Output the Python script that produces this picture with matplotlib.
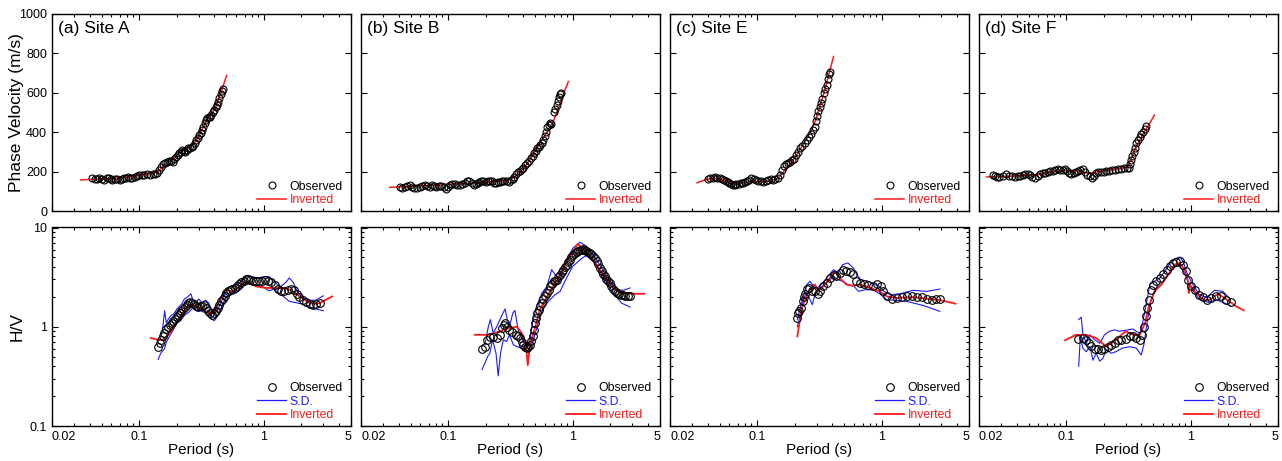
import matplotlib
matplotlib.use("Agg")
from matplotlib import pyplot as plt
from matplotlib.ticker import FixedLocator, FixedFormatter, LogLocator, NullFormatter

plt.rcParams['font.family'] = ['Liberation Sans', 'DejaVu Sans']

# panel titles
titles = ["(a) Site A", "(b) Site B", "(c) Site E", "(d) Site F"]

# ---- phase velocity (period s, m/s) ----
a_pv_obs = [(0.042, 165), (0.044, 163), (0.046, 160), (0.048, 166), (0.050, 162), (0.052, 158), (0.055, 165),
            (0.057, 170), (0.059, 160), (0.061, 155), (0.064, 160), (0.067, 163), (0.070, 158), (0.073, 162),
            (0.076, 165), (0.079, 170), (0.082, 175), (0.085, 168), (0.088, 165), (0.092, 172), (0.096, 178),
            (0.100, 182), (0.105, 185), (0.110, 183), (0.116, 186), (0.122, 184), (0.128, 188), (0.134, 190),
            (0.140, 195), (0.145, 210), (0.150, 225), (0.156, 238), (0.162, 245), (0.168, 250), (0.174, 255),
            (0.180, 252), (0.186, 248), (0.192, 262), (0.198, 272), (0.204, 282), (0.210, 292), (0.216, 302),
            (0.222, 310), (0.228, 305), (0.234, 300), (0.240, 310), (0.248, 318), (0.256, 322), (0.264, 325),
            (0.272, 330), (0.280, 345), (0.288, 360), (0.296, 372), (0.304, 385), (0.312, 398), (0.320, 410),
            (0.328, 428), (0.336, 445), (0.344, 462), (0.352, 472), (0.360, 478), (0.370, 478), (0.380, 485),
            (0.390, 500), (0.400, 515), (0.410, 528), (0.420, 540), (0.430, 555), (0.440, 575), (0.450, 595),
            (0.460, 608), (0.468, 618)]
a_pv_inv = [(0.034, 158), (0.040, 160), (0.050, 163), (0.060, 165), (0.070, 168), (0.080, 172), (0.090, 177),
            (0.100, 182), (0.115, 187), (0.130, 192), (0.140, 198), (0.150, 215), (0.160, 235), (0.175, 255),
            (0.190, 268), (0.205, 285), (0.220, 305), (0.240, 318), (0.260, 330), (0.280, 350), (0.300, 380),
            (0.320, 415), (0.340, 450), (0.360, 475), (0.380, 490), (0.400, 515), (0.420, 545), (0.440, 580),
            (0.460, 615), (0.480, 650), (0.503, 688)]

b_pv_obs = [(0.041, 120), (0.043, 118), (0.045, 122), (0.047, 125), (0.049, 130), (0.051, 124), (0.053, 118),
            (0.056, 118), (0.059, 122), (0.062, 128), (0.065, 132), (0.068, 128), (0.071, 124), (0.074, 130),
            (0.077, 126), (0.080, 122), (0.084, 125), (0.088, 128), (0.092, 120), (0.096, 114), (0.100, 122),
            (0.104, 132), (0.108, 138), (0.113, 135), (0.118, 130), (0.124, 132), (0.130, 138), (0.136, 142),
            (0.142, 152), (0.148, 150), (0.154, 140), (0.160, 132), (0.166, 135), (0.172, 140), (0.178, 145),
            (0.185, 150), (0.192, 152), (0.200, 148), (0.208, 150), (0.216, 152), (0.224, 150), (0.232, 140),
            (0.240, 142), (0.250, 145), (0.260, 148), (0.270, 150), (0.282, 152), (0.294, 150), (0.306, 148),
            (0.318, 155), (0.330, 160), (0.340, 172), (0.350, 190), (0.362, 200), (0.375, 205), (0.388, 212),
            (0.400, 220), (0.415, 235), (0.430, 245), (0.445, 255), (0.460, 268), (0.475, 280), (0.490, 295),
            (0.505, 305), (0.520, 318), (0.535, 325), (0.550, 335), (0.565, 345), (0.580, 360), (0.595, 380),
            (0.610, 400), (0.625, 425), (0.640, 438), (0.655, 445), (0.670, 440), (0.700, 500), (0.720, 520),
            (0.740, 538), (0.760, 558), (0.780, 578), (0.795, 592), (0.805, 600)]
b_pv_inv = [(0.034, 120), (0.040, 122), (0.050, 125), (0.060, 128), (0.070, 130), (0.080, 132), (0.090, 134),
            (0.100, 136), (0.120, 138), (0.140, 140), (0.160, 142), (0.180, 145), (0.200, 147), (0.220, 149),
            (0.250, 152), (0.280, 155), (0.310, 160), (0.340, 172), (0.370, 192), (0.400, 216), (0.430, 240),
            (0.460, 270), (0.490, 298), (0.520, 325), (0.550, 350), (0.580, 372), (0.620, 398), (0.660, 425),
            (0.700, 458), (0.740, 496), (0.780, 535), (0.820, 572), (0.860, 612), (0.900, 640), (0.920, 657)]

c_pv_obs = [(0.040, 160), (0.042, 165), (0.044, 170), (0.046, 172), (0.048, 170), (0.050, 168), (0.052, 162),
            (0.054, 155), (0.056, 150), (0.058, 145), (0.060, 140), (0.062, 135), (0.064, 130), (0.066, 132),
            (0.068, 136), (0.071, 138), (0.074, 140), (0.077, 142), (0.080, 146), (0.083, 150), (0.086, 156),
            (0.090, 165), (0.094, 160), (0.098, 155), (0.102, 152), (0.107, 150), (0.112, 146), (0.117, 150),
            (0.122, 155), (0.128, 160), (0.134, 158), (0.140, 162), (0.146, 165), (0.152, 185), (0.158, 210),
            (0.164, 228), (0.170, 240), (0.176, 245), (0.182, 250), (0.190, 258), (0.198, 265), (0.206, 285),
            (0.214, 300), (0.222, 318), (0.230, 330), (0.240, 345), (0.250, 360), (0.260, 375), (0.270, 390),
            (0.280, 410), (0.290, 428), (0.298, 455), (0.304, 480), (0.310, 510), (0.318, 530), (0.326, 550),
            (0.334, 570), (0.342, 600), (0.350, 620), (0.360, 640), (0.370, 670), (0.378, 695), (0.383, 708)]
c_pv_inv = [(0.033, 143), (0.037, 155), (0.042, 165), (0.048, 165), (0.055, 155), (0.062, 138), (0.070, 135),
            (0.080, 145), (0.090, 150), (0.100, 150), (0.120, 150), (0.140, 160), (0.150, 172), (0.160, 195),
            (0.172, 215), (0.190, 250), (0.207, 284), (0.230, 330), (0.264, 394), (0.290, 450), (0.318, 530),
            (0.340, 590), (0.360, 648), (0.385, 720), (0.410, 784)]

d_pv_obs = [(0.026, 185), (0.027, 178), (0.028, 174), (0.029, 172), (0.031, 178), (0.033, 187), (0.035, 180),
            (0.037, 176), (0.039, 175), (0.041, 178), (0.043, 177), (0.045, 182), (0.047, 188), (0.049, 190),
            (0.051, 182), (0.053, 175), (0.056, 170), (0.059, 180), (0.062, 190), (0.065, 192), (0.068, 195),
            (0.071, 198), (0.074, 202), (0.078, 205), (0.082, 208), (0.086, 212), (0.090, 210), (0.094, 208),
            (0.098, 212), (0.102, 205), (0.106, 195), (0.110, 190), (0.115, 195), (0.120, 200), (0.125, 205),
            (0.130, 210), (0.136, 212), (0.142, 198), (0.148, 185), (0.154, 178), (0.160, 168), (0.166, 180),
            (0.172, 192), (0.180, 198), (0.190, 200), (0.200, 198), (0.210, 202), (0.222, 205), (0.235, 208),
            (0.248, 210), (0.262, 214), (0.276, 215), (0.290, 216), (0.305, 216), (0.318, 218), (0.326, 240),
            (0.333, 260), (0.340, 280), (0.347, 300), (0.355, 320), (0.364, 343), (0.375, 360), (0.389, 377),
            (0.400, 392), (0.410, 402), (0.425, 418), (0.440, 431)]
d_pv_inv = [(0.023, 173), (0.030, 175), (0.040, 178), (0.050, 182), (0.060, 185), (0.070, 195), (0.080, 200),
            (0.095, 205), (0.107, 207), (0.120, 205), (0.140, 195), (0.155, 190), (0.174, 199), (0.200, 205),
            (0.240, 212), (0.280, 218), (0.310, 224), (0.336, 270), (0.364, 326), (0.400, 375), (0.440, 419),
            (0.475, 452), (0.510, 487)]

# ---- H/V spectral ratio (period s, ratio) ----
a_hv_obs = [(0.142, 0.62), (0.146, 0.68), (0.150, 0.74), (0.154, 0.80), (0.158, 0.86), (0.164, 0.95),
            (0.170, 1.00), (0.176, 1.05), (0.182, 1.10), (0.188, 1.15), (0.194, 1.20), (0.200, 1.25),
            (0.206, 1.30), (0.212, 1.36), (0.218, 1.45), (0.225, 1.51), (0.232, 1.58), (0.240, 1.66),
            (0.248, 1.74), (0.256, 1.78), (0.265, 1.75), (0.276, 1.70), (0.286, 1.62), (0.296, 1.58),
            (0.308, 1.60), (0.320, 1.62), (0.332, 1.65), (0.344, 1.55), (0.356, 1.45), (0.370, 1.38),
            (0.384, 1.32), (0.398, 1.36), (0.412, 1.45), (0.426, 1.55), (0.440, 1.65), (0.455, 1.80),
            (0.470, 1.92), (0.485, 2.05), (0.500, 2.20), (0.520, 2.30), (0.540, 2.35), (0.560, 2.42),
            (0.585, 2.48), (0.610, 2.55), (0.635, 2.68), (0.660, 2.80), (0.690, 2.92), (0.720, 3.02),
            (0.750, 3.05), (0.780, 2.95), (0.820, 2.90), (0.870, 2.88), (0.920, 2.90), (0.970, 2.92),
            (1.02, 2.94), (1.08, 2.92), (1.15, 2.85), (1.22, 2.65), (1.30, 2.38), (1.38, 2.27), (1.46, 2.30),
            (1.55, 2.36), (1.64, 2.42), (1.73, 2.32), (1.83, 2.15), (1.93, 1.98), (2.05, 1.85), (2.18, 1.78),
            (2.33, 1.70), (2.48, 1.67), (2.64, 1.68), (2.80, 1.72)]
a_hv_inv = [(0.124, 0.77), (0.140, 0.74), (0.155, 0.74), (0.170, 0.82), (0.187, 0.95), (0.200, 1.10),
            (0.218, 1.32), (0.235, 1.52), (0.255, 1.67), (0.275, 1.62), (0.305, 1.54), (0.335, 1.45),
            (0.360, 1.37), (0.385, 1.36), (0.405, 1.45), (0.430, 1.70), (0.455, 1.98), (0.480, 2.25),
            (0.500, 2.40), (0.530, 2.30), (0.560, 2.27), (0.600, 2.40), (0.640, 2.55), (0.690, 2.75),
            (0.740, 2.87), (0.800, 2.68), (0.870, 2.55), (0.950, 2.50), (1.04, 2.46), (1.20, 2.46),
            (1.34, 2.46), (1.50, 2.42), (1.62, 2.36), (1.78, 2.20), (1.94, 2.02), (2.15, 1.85), (2.33, 1.73),
            (2.55, 1.70), (2.80, 1.73), (3.10, 1.85), (3.53, 2.02)]
a_sd_up = [(0.150, 0.80), (0.155, 1.00), (0.160, 1.45), (0.165, 1.10), (0.172, 1.20), (0.180, 1.30),
           (0.190, 1.35), (0.200, 1.50), (0.210, 1.60), (0.220, 1.70), (0.230, 1.90), (0.245, 2.00),
           (0.260, 2.15), (0.270, 1.85), (0.285, 1.75), (0.300, 1.90), (0.320, 1.75), (0.340, 1.85),
           (0.360, 1.75), (0.380, 1.50), (0.400, 1.35), (0.420, 1.45), (0.450, 1.70), (0.480, 2.10),
           (0.520, 2.50), (0.560, 2.60), (0.620, 2.70), (0.680, 3.00), (0.740, 3.30), (0.800, 3.20),
           (0.900, 3.10), (1.00, 3.20), (1.10, 3.20), (1.20, 2.90), (1.35, 2.50), (1.50, 2.80), (1.60, 3.10),
           (1.72, 2.80), (1.85, 2.30), (2.00, 2.00), (2.30, 1.85), (2.60, 1.85), (3.00, 2.05)]
a_sd_lo = [(0.142, 0.47), (0.150, 0.55), (0.160, 0.60), (0.165, 0.70), (0.175, 0.80), (0.185, 0.90),
           (0.200, 1.10), (0.215, 1.15), (0.230, 1.30), (0.250, 1.40), (0.270, 1.55), (0.290, 1.45),
           (0.310, 1.45), (0.330, 1.40), (0.360, 1.45), (0.380, 1.20), (0.400, 1.15), (0.430, 1.30),
           (0.460, 1.60), (0.500, 2.00), (0.550, 2.10), (0.600, 2.20), (0.660, 2.40), (0.720, 2.70),
           (0.800, 2.70), (0.900, 2.60), (1.00, 2.50), (1.10, 2.30), (1.20, 2.40), (1.30, 2.20), (1.45, 2.00),
           (1.60, 1.80), (1.80, 1.75), (2.00, 1.70), (2.40, 1.55), (3.00, 1.45)]

b_hv_obs = [(0.187, 0.59), (0.197, 0.63), (0.205, 0.74), (0.216, 0.79), (0.230, 0.79), (0.245, 0.77),
            (0.260, 0.83), (0.268, 0.97), (0.280, 1.05), (0.286, 1.09), (0.298, 1.00), (0.310, 0.93),
            (0.328, 0.88), (0.347, 0.83), (0.362, 0.80), (0.376, 0.77), (0.390, 0.70), (0.400, 0.66),
            (0.415, 0.63), (0.427, 0.61), (0.440, 0.63), (0.450, 0.66), (0.463, 0.72), (0.475, 0.80),
            (0.488, 0.93), (0.500, 1.09), (0.510, 1.22), (0.520, 1.37), (0.533, 1.48), (0.545, 1.60),
            (0.562, 1.75), (0.580, 1.90), (0.600, 2.05), (0.620, 2.19), (0.640, 2.37), (0.660, 2.55),
            (0.680, 2.72), (0.700, 2.87), (0.720, 2.92), (0.740, 2.98), (0.765, 3.15), (0.790, 3.35),
            (0.815, 3.55), (0.840, 3.76), (0.865, 4.00), (0.890, 4.22), (0.920, 4.50), (0.950, 4.75),
            (0.975, 5.05), (1.00, 5.33), (1.035, 5.50), (1.07, 5.67), (1.105, 5.80), (1.14, 5.90),
            (1.175, 6.00), (1.21, 6.09), (1.245, 5.95), (1.28, 5.77), (1.32, 5.65), (1.37, 5.55),
            (1.41, 5.40), (1.45, 5.21), (1.50, 4.90), (1.55, 4.57), (1.60, 4.25), (1.64, 3.91),
            (1.70, 3.65), (1.75, 3.43), (1.80, 3.22), (1.86, 3.03), (1.92, 2.90), (1.98, 2.76),
            (2.04, 2.58), (2.11, 2.40), (2.17, 2.28), (2.24, 2.19), (2.33, 2.14), (2.42, 2.10),
            (2.52, 2.08), (2.63, 2.06), (2.75, 2.06), (2.88, 2.06)]
b_hv_inv = [(0.164, 0.83), (0.216, 0.83), (0.277, 0.93), (0.320, 0.98), (0.355, 1.00), (0.380, 0.90),
            (0.400, 0.80), (0.420, 0.66), (0.435, 0.41), (0.450, 0.61), (0.475, 0.80), (0.500, 1.00),
            (0.545, 1.49), (0.620, 2.02), (0.740, 2.87), (0.890, 4.57), (1.10, 6.87), (1.21, 6.00),
            (1.45, 4.75), (1.75, 3.35), (2.11, 2.46), (2.46, 2.19), (3.05, 2.15), (3.76, 2.15)]
b_sd_up = [(0.197, 0.66), (0.210, 1.00), (0.218, 1.18), (0.230, 0.86), (0.245, 1.00), (0.260, 1.18),
           (0.275, 1.37), (0.286, 1.51), (0.298, 1.18), (0.310, 1.00), (0.330, 1.37), (0.343, 1.46),
           (0.364, 0.93), (0.400, 0.71), (0.427, 0.63), (0.450, 0.71), (0.475, 1.09), (0.510, 1.60),
           (0.565, 2.19), (0.620, 2.55), (0.676, 3.76), (0.720, 3.35), (0.790, 2.98), (0.890, 4.75),
           (1.00, 6.20), (1.14, 7.10), (1.28, 6.50), (1.55, 4.75), (1.86, 3.22), (2.24, 2.36), (2.54, 2.33),
           (2.88, 2.46)]
b_sd_lo = [(0.187, 0.37), (0.197, 0.43), (0.207, 0.50), (0.216, 0.54), (0.227, 0.74), (0.242, 0.54),
           (0.252, 0.32), (0.263, 0.54), (0.277, 0.74), (0.294, 0.71), (0.310, 0.83), (0.333, 0.66),
           (0.355, 0.63), (0.389, 0.61), (0.410, 0.59), (0.437, 0.58), (0.470, 0.66), (0.500, 0.86),
           (0.545, 1.27), (0.590, 1.60), (0.655, 1.87), (0.720, 2.10), (0.790, 2.27), (0.890, 3.10),
           (1.00, 4.07), (1.19, 4.94), (1.28, 5.21), (1.50, 4.40), (1.75, 3.22), (2.11, 2.19), (2.46, 1.73),
           (2.88, 1.58)]

c_hv_obs = [(0.207, 1.22), (0.213, 1.37), (0.218, 1.45), (0.224, 1.54), (0.232, 1.80), (0.237, 1.98),
            (0.242, 2.15), (0.250, 2.40), (0.262, 2.46), (0.274, 2.27), (0.290, 2.27), (0.310, 2.15),
            (0.320, 2.27), (0.340, 2.55), (0.360, 2.76), (0.383, 3.10), (0.410, 3.35), (0.430, 3.27),
            (0.460, 3.48), (0.490, 3.76), (0.520, 3.62), (0.553, 3.55), (0.590, 3.40), (0.620, 2.87),
            (0.665, 2.76), (0.720, 2.72), (0.780, 2.66), (0.850, 2.55), (0.920, 2.70), (0.980, 2.55),
            (1.03, 2.27), (1.10, 2.06), (1.20, 1.92), (1.32, 1.93), (1.44, 1.98), (1.59, 2.02), (1.73, 2.02),
            (1.90, 1.99), (2.09, 1.98), (2.30, 1.92), (2.52, 1.87), (2.74, 1.90), (2.92, 1.92)]
c_hv_inv = [(0.210, 0.80), (0.227, 1.49), (0.250, 2.10), (0.274, 2.55), (0.290, 2.66), (0.310, 2.36),
            (0.340, 2.55), (0.383, 3.10), (0.420, 3.62), (0.460, 3.10), (0.520, 2.66), (0.590, 2.59),
            (0.665, 2.66), (0.755, 2.55), (0.880, 2.36), (0.960, 2.27), (1.10, 2.02), (1.32, 1.95),
            (1.78, 1.99), (2.30, 1.92), (2.96, 1.85), (3.90, 1.71)]
c_sd_up = [(0.210, 1.18), (0.227, 1.73), (0.250, 2.66), (0.265, 2.87), (0.277, 2.66), (0.300, 2.46),
           (0.318, 2.55), (0.360, 3.10), (0.410, 3.76), (0.445, 3.48), (0.485, 4.22), (0.535, 4.40),
           (0.590, 3.91), (0.630, 3.35), (0.680, 2.98), (0.780, 2.87), (0.880, 2.66), (0.960, 2.55),
           (1.04, 2.27), (1.17, 2.10), (1.40, 2.15), (1.78, 2.33), (2.30, 2.27), (2.92, 2.40)]
c_sd_lo = [(0.210, 1.00), (0.224, 1.37), (0.237, 1.95), (0.250, 2.19), (0.262, 1.95), (0.277, 1.67),
           (0.290, 2.10), (0.318, 2.46), (0.360, 2.76), (0.410, 3.22), (0.445, 2.98), (0.485, 2.87),
           (0.535, 2.66), (0.600, 2.55), (0.650, 2.27), (0.730, 2.36), (0.850, 2.36), (0.960, 2.15),
           (1.10, 1.87), (1.26, 1.85), (1.59, 1.80), (2.18, 1.63), (2.92, 1.43)]

d_hv_obs = [(0.124, 0.76), (0.136, 0.77), (0.145, 0.73), (0.152, 0.69), (0.159, 0.64), (0.169, 0.59),
            (0.180, 0.59), (0.191, 0.58), (0.203, 0.59), (0.216, 0.62), (0.230, 0.66), (0.245, 0.68),
            (0.260, 0.73), (0.277, 0.74), (0.300, 0.75), (0.323, 0.80), (0.343, 0.80), (0.364, 0.77),
            (0.389, 0.74), (0.409, 0.83), (0.420, 1.00), (0.435, 1.27), (0.448, 1.54), (0.460, 1.87),
            (0.480, 2.36), (0.500, 2.66), (0.530, 2.87), (0.565, 3.10), (0.600, 3.43), (0.640, 3.76),
            (0.676, 4.07), (0.720, 4.40), (0.766, 4.47), (0.815, 4.57), (0.865, 4.22), (0.910, 3.62),
            (0.950, 2.98), (1.00, 2.55), (1.07, 2.33), (1.16, 2.10), (1.25, 1.98), (1.35, 1.87),
            (1.46, 1.95), (1.60, 2.06), (1.75, 2.02), (1.92, 1.87), (2.08, 1.76)]
d_hv_inv = [(0.098, 0.73), (0.120, 0.83), (0.145, 0.83), (0.174, 0.77), (0.210, 0.63), (0.250, 0.74),
            (0.300, 0.90), (0.343, 0.83), (0.389, 0.83), (0.430, 1.09), (0.460, 1.60), (0.510, 2.27),
            (0.580, 2.66), (0.660, 3.35), (0.740, 4.22), (0.815, 4.40), (0.890, 3.76), (0.950, 2.87),
            (0.960, 2.19), (0.980, 2.66), (1.10, 2.19), (1.28, 1.85), (1.42, 1.87), (1.65, 2.15),
            (1.92, 1.90), (2.32, 1.60), (2.66, 1.46)]
d_sd_up = [(0.126, 1.18), (0.132, 1.25), (0.136, 0.86), (0.145, 0.68), (0.155, 0.83), (0.169, 0.74),
           (0.186, 0.68), (0.203, 0.83), (0.222, 0.90), (0.245, 0.93), (0.265, 0.90), (0.300, 0.92),
           (0.343, 0.95), (0.364, 0.90), (0.389, 0.86), (0.410, 1.09), (0.435, 1.60), (0.470, 2.66),
           (0.510, 2.87), (0.565, 3.10), (0.620, 3.62), (0.676, 4.40), (0.740, 4.83), (0.815, 5.05),
           (0.865, 4.57), (0.930, 3.48), (1.02, 2.76), (1.17, 2.10), (1.34, 1.98), (1.55, 2.33),
           (1.80, 2.27), (2.08, 1.90)]
d_sd_lo = [(0.126, 0.40), (0.130, 0.80), (0.136, 0.61), (0.145, 0.56), (0.155, 0.63), (0.164, 0.46),
           (0.174, 0.54), (0.186, 0.45), (0.197, 0.48), (0.210, 0.59), (0.230, 0.54), (0.250, 0.56),
           (0.283, 0.61), (0.323, 0.63), (0.364, 0.61), (0.400, 0.52), (0.420, 0.66), (0.450, 1.18),
           (0.480, 1.87), (0.530, 2.46), (0.580, 2.66), (0.660, 3.35), (0.740, 4.07), (0.815, 4.07),
           (0.890, 3.48), (0.980, 2.55), (1.17, 1.90), (1.38, 1.76), (1.60, 1.87), (1.86, 1.73),
           (2.08, 1.63)]

pv_obs = [a_pv_obs, b_pv_obs, c_pv_obs, d_pv_obs]
pv_inv = [a_pv_inv, b_pv_inv, c_pv_inv, d_pv_inv]
hv_obs = [a_hv_obs, b_hv_obs, c_hv_obs, d_hv_obs]
hv_inv = [a_hv_inv, b_hv_inv, c_hv_inv, d_hv_inv]
sd_up = [a_sd_up, b_sd_up, c_sd_up, d_sd_up]
sd_lo = [a_sd_lo, b_sd_lo, c_sd_lo, d_sd_lo]

RED = '#ff1a1a'
BLUE = '#1a1aff'
W, H = 1282, 461


def xs(pts):
    return [p[0] for p in pts]


def ys(pts):
    return [p[1] for p in pts]


def style_x(ax, show_labels):
    ax.set_xscale('log')
    ax.set_xlim(0.02, 5)
    ax.xaxis.set_major_locator(FixedLocator([0.02, 0.1, 1, 5]))
    ax.xaxis.set_minor_locator(LogLocator(base=10, subs=range(2, 10)))
    ax.xaxis.set_minor_formatter(NullFormatter())
    if show_labels:
        ax.xaxis.set_major_formatter(FixedFormatter(['0.02', '0.1', '1', '5']))
        ticks = ax.xaxis.get_major_ticks()
        ticks[0].label1.set_horizontalalignment('left')
        ticks[-1].label1.set_horizontalalignment('right')
    else:
        ax.xaxis.set_major_formatter(NullFormatter())
    ax.tick_params(which='both', direction='in', top=True, right=True, labelsize=9, width=0.8)
    ax.tick_params(which='major', length=4)
    ax.tick_params(which='minor', length=2.5)
    for s in ax.spines.values():
        s.set_linewidth(1.0)


def add_legend(ax, with_sd):
    leg = ax.legend(loc='lower right', bbox_to_anchor=(0.99, 0.0), frameon=False, fontsize=8.8,
                    handlelength=2.4, handletextpad=0.3, labelspacing=0.12, borderaxespad=0.2,
                    borderpad=0.2)
    cols = ['black', BLUE, RED] if with_sd else ['black', RED]
    for t, c in zip(leg.get_texts(), cols):
        t.set_color(c)


fig = plt.figure(figsize=(W / 100, H / 100), dpi=100)
lefts = [52, 361, 670, 979]

for i in range(4):
    L = lefts[i] / W
    # phase velocity
    ax = fig.add_axes([L, 1 - 211 / H, 299 / W, 197 / H])
    ax.plot(xs(pv_inv[i]), ys(pv_inv[i]), color=RED, lw=1.1, zorder=2)
    ax.plot(xs(pv_obs[i]), ys(pv_obs[i]), 'o', mfc='none', mec='black', ms=5, mew=0.8,
            zorder=3, label='Observed')
    ax.plot([], [], color=RED, lw=1.1, label='Inverted')
    style_x(ax, False)
    ax.set_ylim(0, 1000)
    ax.set_yticks([0, 200, 400, 600, 800, 1000])
    if i == 0:
        ax.set_ylabel('Phase Velocity (m/s)', fontsize=12.5)
        ax.yaxis.set_label_coords(-0.092, 0.5)
    else:
        ax.set_yticklabels([])
    ax.text(0.02, 0.925, titles[i], transform=ax.transAxes, fontsize=12.5, va='center', ha='left')
    add_legend(ax, False)

    # H/V
    ax2 = fig.add_axes([L, 1 - 426 / H, 299 / W, 198.5 / H])
    ax2.plot(xs(sd_up[i]), ys(sd_up[i]), color=BLUE, lw=0.8, zorder=1)
    ax2.plot(xs(sd_lo[i]), ys(sd_lo[i]), color=BLUE, lw=0.8, zorder=1)
    ax2.plot(xs(hv_inv[i]), ys(hv_inv[i]), color=RED, lw=1.3, zorder=2)
    ax2.plot(xs(hv_obs[i]), ys(hv_obs[i]), 'o', mfc='none', mec='black', ms=5.5, mew=0.8,
             zorder=3, label='Observed')
    ax2.plot([], [], color=BLUE, lw=0.9, label='S.D.')
    ax2.plot([], [], color=RED, lw=1.3, label='Inverted')
    ax2.set_yscale('log')
    ax2.set_ylim(0.1, 10)
    style_x(ax2, True)
    ax2.yaxis.set_major_locator(FixedLocator([0.1, 1, 10]))
    ax2.yaxis.set_minor_locator(LogLocator(base=10, subs=range(2, 10)))
    ax2.yaxis.set_minor_formatter(NullFormatter())
    if i == 0:
        ax2.yaxis.set_major_formatter(FixedFormatter(['0.1', '1', '10']))
        ax2.set_ylabel('H/V', fontsize=12.5)
        ax2.yaxis.set_label_coords(-0.092, 0.5)
    else:
        ax2.yaxis.set_major_formatter(NullFormatter())
    ax2.set_xlabel('Period (s)', fontsize=11, labelpad=0)
    add_legend(ax2, True)

fig.savefig('out.png', dpi=100)
